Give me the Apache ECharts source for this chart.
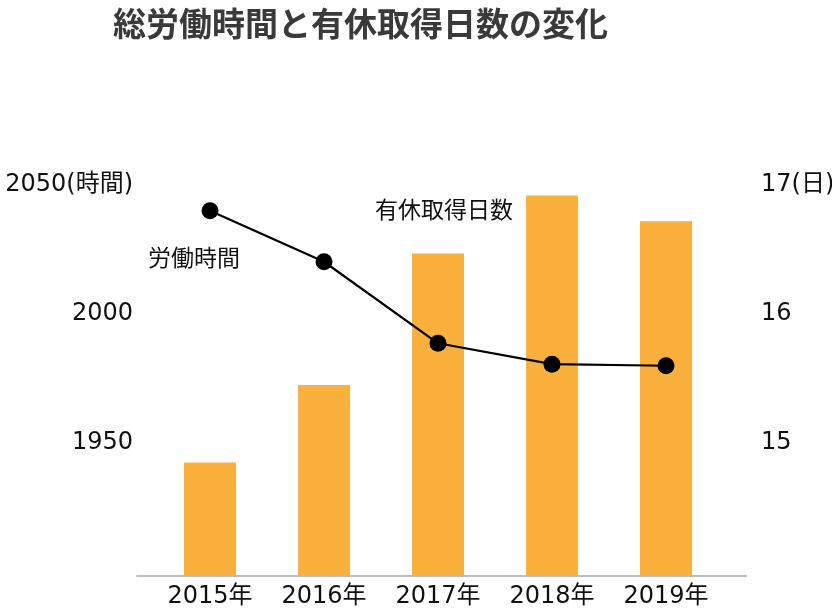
<!DOCTYPE html>
<html>
<head>
<meta charset="utf-8">
<script src="https://cdn.jsdelivr.net/npm/echarts@6/dist/echarts.min.js"></script>
<style>
html,body{margin:0;padding:0;background:#fff;}
#chart{width:832px;height:610px;}
</style>
</head>
<body>
<div id="chart"></div>
<script>
const categories = ['2015年', '2016年', '2017年', '2018年', '2019年'];
const workHours = [2041.6, 2021.8, 1990.2, 1982.1, 1981.5];
const paidLeaveDays = [14.88, 15.48, 16.50, 16.95, 16.75];
const leftTicks = { min: 1900, max: 2050, interval: 50, unit: '(時間)' };
const rightTicks = { min: 14, max: 17, interval: 1, unit: '(日)' };

const FONT = "'DejaVu Sans', 'Noto Sans CJK JP', sans-serif";
const CJK = "'Noto Sans CJK JP', sans-serif";

const chart = echarts.init(document.getElementById('chart'), null, { renderer: 'canvas' });
chart.setOption({
  backgroundColor: '#ffffff',
  animation: false,
  title: {
    text: '総労働時間と有休取得日数の変化',
    left: 113, top: 7, padding: 0,
    textStyle: { fontFamily: CJK, fontSize: 33, fontWeight: 'bold', color: '#3a3a3a' }
  },
  grid: [
    { left: 137, right: 86, top: 189, bottom: 34, outerBoundsMode: 'none', containLabel: false },
    { left: 153, right: 109, top: 189, bottom: 34, outerBoundsMode: 'none', containLabel: false }
  ],
  xAxis: [
    {
      gridIndex: 0, type: 'category', data: categories,
      axisLine: { show: true, lineStyle: { color: '#bdbdbd', width: 2 } },
      axisTick: { show: false }, axisLabel: { show: false }, splitLine: { show: false }
    },
    {
      gridIndex: 1, type: 'category', data: categories,
      axisLine: { show: false }, axisTick: { show: false },
      axisLabel: { margin: 9, color: '#111', fontFamily: FONT, fontSize: 24 }
    }
  ],
  yAxis: [
    { gridIndex: 0, type: 'value', show: false, min: 0, max: 1 },
    {
      gridIndex: 1, type: 'value', position: 'left',
      min: leftTicks.min, max: leftTicks.max, interval: leftTicks.interval,
      axisLine: { show: false }, axisTick: { show: false }, splitLine: { show: false },
      axisLabel: {
        margin: 20, color: '#111', fontFamily: FONT, fontSize: 24,
        verticalAlign: 'bottom', lineHeight: 8,
        formatter: v => v === leftTicks.min ? '' : (v === leftTicks.max ? v + leftTicks.unit : String(v))
      }
    },
    {
      gridIndex: 1, type: 'value', position: 'right',
      min: rightTicks.min, max: rightTicks.max, interval: rightTicks.interval,
      axisLine: { show: false }, axisTick: { show: false }, splitLine: { show: false },
      axisLabel: {
        margin: 38, color: '#111', fontFamily: FONT, fontSize: 24,
        verticalAlign: 'bottom', lineHeight: 8,
        formatter: v => v === rightTicks.min ? '' : (v === rightTicks.max ? v + rightTicks.unit : String(v))
      }
    }
  ],
  graphic: [
    { type: 'text', x: 148, y: 257, style: { text: '労働時間', fill: '#111', font: "23px 'Noto Sans CJK JP'", verticalAlign: 'middle' } },
    { type: 'text', x: 375, y: 209, style: { text: '有休取得日数', fill: '#111', font: "23px 'Noto Sans CJK JP'", verticalAlign: 'middle' } }
  ],
  series: [
    {
      name: '有休取得日数', type: 'bar', xAxisIndex: 1, yAxisIndex: 2,
      data: paidLeaveDays, barWidth: 52,
      itemStyle: { color: '#F9B03D' }
    },
    {
      name: '労働時間', type: 'line', xAxisIndex: 1, yAxisIndex: 1,
      data: workHours, symbol: 'circle', symbolSize: 17,
      lineStyle: { color: '#000', width: 2.2 },
      itemStyle: { color: '#000' }
    }
  ]
});
</script>
</body>
</html>
